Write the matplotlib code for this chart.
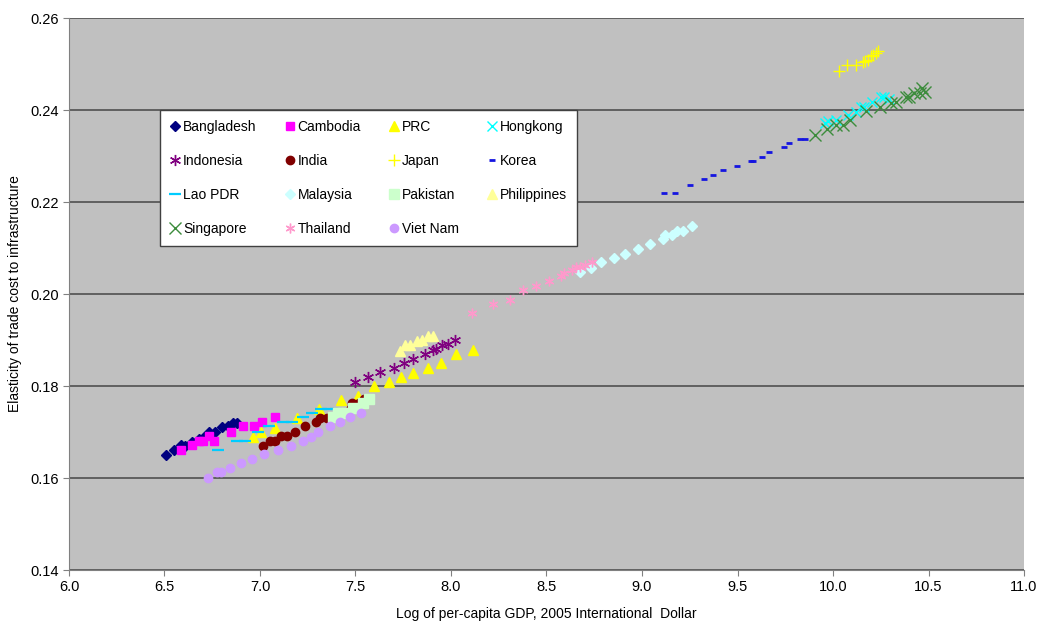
import numpy as np
import matplotlib
matplotlib.use("Agg")
import matplotlib.pyplot as plt

plt.rcParams['font.family'] = ['Liberation Sans', 'DejaVu Sans']

# ---- data: (log per-capita GDP, elasticity) ----
bangladesh_x = [6.51, 6.55, 6.585, 6.61, 6.643, 6.68, 6.705, 6.735, 6.766, 6.80, 6.83, 6.86, 6.88]
bangladesh_y = [0.1650, 0.1661, 0.1672, 0.1670, 0.1679, 0.1685, 0.1690, 0.1701, 0.1699, 0.1711, 0.1712, 0.1720, 0.1720]

cambodia_x = [6.588, 6.645, 6.68, 6.70, 6.735, 6.76, 6.85, 6.913, 6.97, 7.013, 7.077]
cambodia_y = [0.1661, 0.1672, 0.1681, 0.1681, 0.1691, 0.1681, 0.1701, 0.1712, 0.1712, 0.1721, 0.1732]

prc_x = [6.965, 7.005, 7.077, 7.195, 7.31, 7.423, 7.513, 7.597, 7.678, 7.739, 7.803, 7.878, 7.949, 8.028, 8.115]
prc_y = [0.1689, 0.1699, 0.1708, 0.1730, 0.1750, 0.1770, 0.1779, 0.1800, 0.1809, 0.1820, 0.1829, 0.1840, 0.1849, 0.1870, 0.1878]

hongkong_x = [9.956, 9.973, 10.016, 10.077, 10.12, 10.146, 10.163, 10.206, 10.25, 10.267, 10.293]
hongkong_y = [0.2371, 0.2377, 0.2378, 0.2389, 0.2396, 0.2407, 0.2407, 0.2418, 0.2429, 0.2429, 0.2425]

indonesia_x = [7.495, 7.565, 7.63, 7.70, 7.752, 7.803, 7.864, 7.907, 7.924, 7.954, 7.985, 8.02]
indonesia_y = [0.1809, 0.1820, 0.1830, 0.1840, 0.1849, 0.1859, 0.1870, 0.1878, 0.1880, 0.1889, 0.1891, 0.1900]

india_x = [7.017, 7.054, 7.08, 7.111, 7.141, 7.184, 7.238, 7.293, 7.315, 7.351, 7.475, 7.483, 7.518, 7.547]
india_y = [0.1670, 0.1681, 0.1681, 0.1691, 0.1691, 0.1701, 0.1712, 0.1721, 0.1731, 0.1731, 0.1752, 0.1762, 0.1762, 0.1772]

japan_x = [10.031, 10.074, 10.119, 10.157, 10.166, 10.183, 10.20, 10.209, 10.226, 10.235]
japan_y = [0.2485, 0.2498, 0.2498, 0.2505, 0.2507, 0.2509, 0.2517, 0.2520, 0.2525, 0.2529]

korea_x = [9.115, 9.171, 9.249, 9.326, 9.373, 9.425, 9.499, 9.569, 9.581, 9.629, 9.665, 9.742, 9.769, 9.828, 9.854]
korea_y = [0.2219, 0.2219, 0.2238, 0.2249, 0.2259, 0.2270, 0.2279, 0.2289, 0.2289, 0.2298, 0.2308, 0.2319, 0.2329, 0.2338, 0.2338]

lao_x = [6.778, 6.879, 6.922, 6.991, 7.047, 7.121, 7.168, 7.225, 7.27, 7.318, 7.354, 7.396]
lao_y = [0.1661, 0.1681, 0.1681, 0.1701, 0.1712, 0.1721, 0.1721, 0.1732, 0.1741, 0.1751, 0.1751, 0.1751]

malaysia_x = [8.678, 8.735, 8.787, 8.853, 8.911, 8.98, 9.041, 9.11, 9.121, 9.157, 9.184, 9.212, 9.26]
malaysia_y = [0.2048, 0.2057, 0.2069, 0.2078, 0.2088, 0.2098, 0.2108, 0.2119, 0.2128, 0.2128, 0.2138, 0.2138, 0.2148]

pakistan_x = [7.383, 7.409, 7.435, 7.487, 7.541, 7.572]
pakistan_y = [0.1732, 0.1741, 0.1741, 0.1752, 0.1762, 0.1772]

philippines_x = [7.735, 7.761, 7.785, 7.821, 7.847, 7.882, 7.908]
philippines_y = [0.1877, 0.1889, 0.1889, 0.1898, 0.1899, 0.1909, 0.1909]

singapore_x = [9.906, 9.97, 10.018, 10.053, 10.088, 10.171, 10.246, 10.304, 10.33, 10.381, 10.399, 10.425, 10.454, 10.468, 10.482]
singapore_y = [0.2346, 0.2358, 0.2367, 0.2367, 0.2378, 0.2397, 0.2407, 0.2416, 0.2418, 0.2428, 0.2429, 0.2436, 0.2438, 0.2447, 0.2440]

thailand_x = [8.112, 8.218, 8.307, 8.377, 8.444, 8.512, 8.574, 8.591, 8.636, 8.655, 8.678, 8.702, 8.738]
thailand_y = [0.1959, 0.1978, 0.1988, 0.2009, 0.2018, 0.2029, 0.2040, 0.2045, 0.2052, 0.2059, 0.2059, 0.2063, 0.2070]

vietnam_x = [6.728, 6.775, 6.798, 6.841, 6.901, 6.96, 7.022, 7.095, 7.164, 7.225, 7.268, 7.306, 7.365, 7.42, 7.472, 7.527]
vietnam_y = [0.1601, 0.1612, 0.1612, 0.1621, 0.1632, 0.1641, 0.1652, 0.1661, 0.1670, 0.1680, 0.1690, 0.1701, 0.1712, 0.1721, 0.1732, 0.1741]

asterisk = (6, 2, 0)

# name, x, y, marker, colour, size, edge width
series = [
    ("Bangladesh", bangladesh_x, bangladesh_y, 'D', '#000080', 5, 1),
    ("Cambodia", cambodia_x, cambodia_y, 's', '#FF00FF', 6, 1),
    ("PRC", prc_x, prc_y, '^', '#FFFF00', 7, 1),
    ("Hongkong", hongkong_x, hongkong_y, 'x', '#00FFFF', 7, 1),
    ("Indonesia", indonesia_x, indonesia_y, asterisk, '#800080', 8, 1),
    ("India", india_x, india_y, 'o', '#800000', 6, 1),
    ("Japan", japan_x, japan_y, '+', '#FFFF00', 8, 1),
    ("Korea", korea_x, korea_y, '_', '#1515E0', 5, 2),
    ("Lao PDR", lao_x, lao_y, '_', '#00CCFF', 9, 1.6),
    ("Malaysia", malaysia_x, malaysia_y, 'D', '#CCFFFF', 5, 1),
    ("Pakistan", pakistan_x, pakistan_y, 's', '#CCFFCC', 7, 1),
    ("Philippines", philippines_x, philippines_y, '^', '#FFFF99', 7, 1),
    ("Singapore", singapore_x, singapore_y, 'x', '#3C8C3C', 8, 1),
    ("Thailand", thailand_x, thailand_y, asterisk, '#FF99CC', 7, 1),
    ("Viet Nam", vietnam_x, vietnam_y, 'o', '#CC99FF', 6, 1),
]

fig = plt.figure(figsize=(10.37, 6.21), dpi=100)
ax = fig.add_axes([0.0665, 0.0821, 0.9210, 0.8889])
ax.set_facecolor('#C0C0C0')

handles = []
for name, xs, ys, mk, col, ms, mew in series:
    line, = ax.plot(xs, ys, linestyle='none', marker=mk, color=col,
                    markersize=ms, markeredgewidth=mew, label=name)
    handles.append(line)

ax.set_xlim(6.0, 11.0)
ax.set_ylim(0.14, 0.26)
ax.set_xticks(np.arange(6.0, 11.01, 0.5))
ax.set_yticks(np.arange(0.14, 0.2601, 0.02))
ax.xaxis.set_major_formatter(matplotlib.ticker.FormatStrFormatter('%.1f'))
ax.yaxis.set_major_formatter(matplotlib.ticker.FormatStrFormatter('%.2f'))
ax.tick_params(axis='both', direction='out', length=4, color='#808080', labelsize=10.5)

ax.yaxis.grid(True, color='#505050', linewidth=1.2)
ax.set_axisbelow(True)
for s in ['top', 'right']:
    ax.spines[s].set_visible(False)
for s in ['left', 'bottom']:
    ax.spines[s].set_color('#808080')

ax.set_xlabel('Log of per-capita GDP, 2005 International  Dollar', fontsize=10, labelpad=9)
ax.set_ylabel('Elasticity of trade cost to infrastructure', fontsize=10, labelpad=6)

# legend reads row by row, matplotlib fills column by column
order = [0, 4, 8, 12, 1, 5, 9, 13, 2, 6, 10, 14, 3, 7, 11]
leg = ax.legend([handles[i] for i in order], [series[i][0] for i in order],
                ncol=4, loc='upper left', bbox_to_anchor=(0.0953, 0.8333, 0.4366, 0.0),
                mode='expand', borderaxespad=0, fontsize=10, handlelength=0.8,
                handletextpad=0.15, labelspacing=1.45, borderpad=0.7,
                fancybox=False, framealpha=1, edgecolor='#404040')
leg.get_frame().set_linewidth(1.0)

fig.savefig('out.png', dpi=100)
